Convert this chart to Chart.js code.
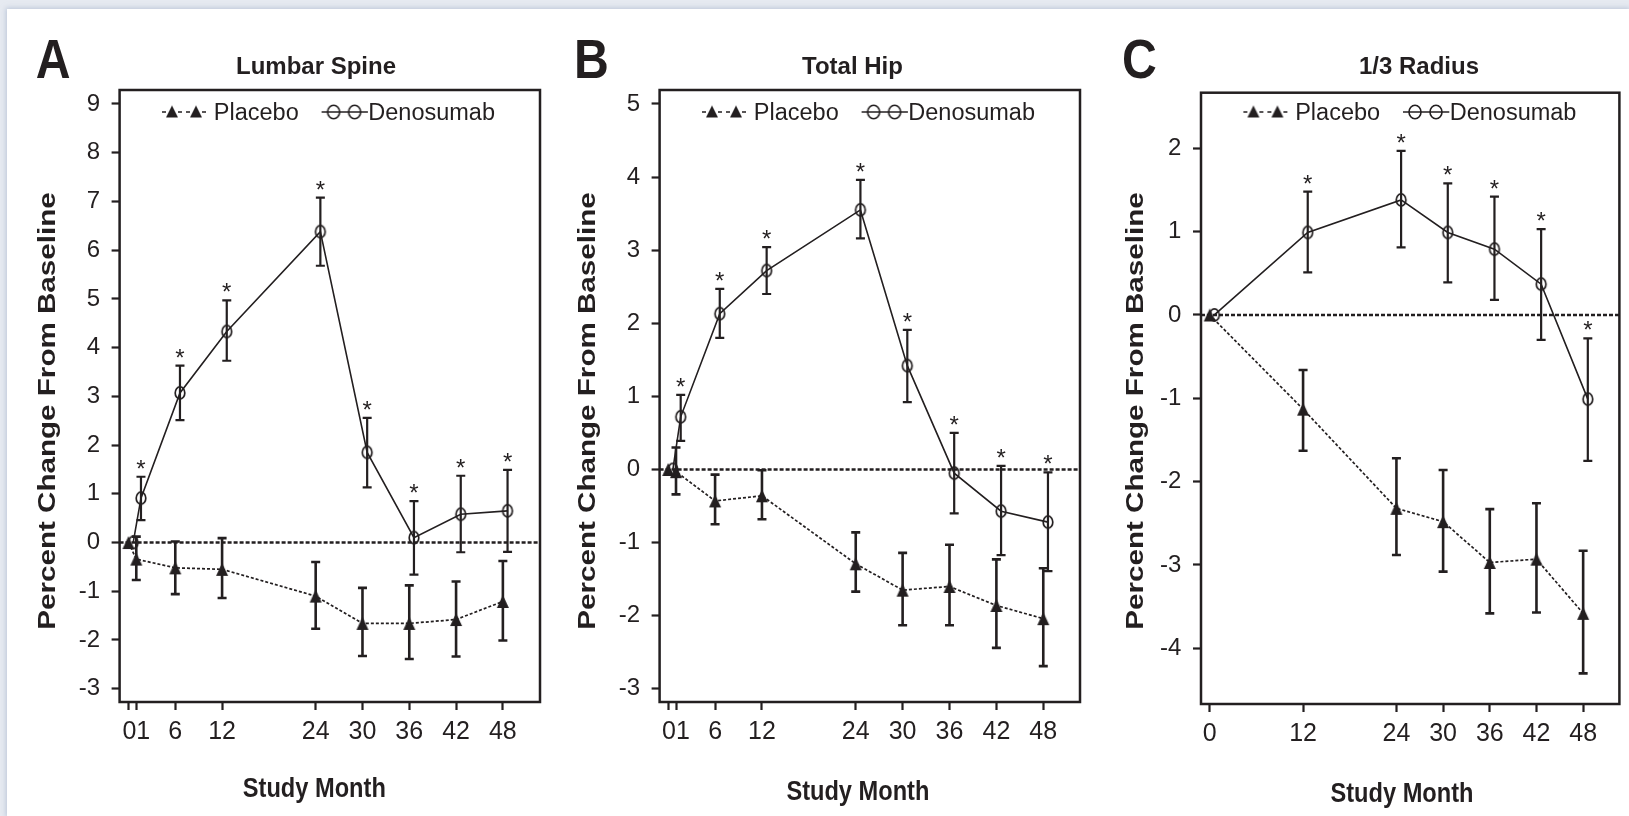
<!DOCTYPE html>
<html><head><meta charset="utf-8">
<script src="https://cdn.jsdelivr.net/npm/chart.js@4.4.1/dist/chart.umd.min.js"></script>
<style>
html,body{margin:0;padding:0;width:1629px;height:816px;overflow:hidden;background:#e6eaf1;}
#sheet{position:absolute;left:7px;top:9px;width:1622px;height:807px;background:#fff;box-shadow:0 0 5px 1px rgba(150,165,195,0.55);}
canvas{position:absolute;top:0;}
</style></head><body>
<div id="sheet"></div>
<canvas id="cA" width="560" height="816" style="left:0px"></canvas>
<canvas id="cB" width="540" height="816" style="left:560px"></canvas>
<canvas id="cC" width="529" height="816" style="left:1100px"></canvas>
<script>
// ---------------- DATA ----------------
const legendLabels = ['Placebo', 'Denosumab'];
const panelTitles = ['Lumbar Spine', 'Total Hip', '1/3 Radius'];
const panelLetters = ['A', 'B', 'C'];
const yAxisTitle = 'Percent Change From Baseline';
const xAxisTitle = 'Study Month';

// Panel A - Lumbar Spine
const monthsA = [0, 1, 6, 12, 24, 30, 36, 42, 48];
const xTickLabelsA = ['', '01', '6', '12', '24', '30', '36', '42', '48'];
const yTicksA = [-3, -2, -1, 0, 1, 2, 3, 4, 5, 6, 7, 8, 9];
const placeboA    = [0, -0.34, -0.52, -0.55, -1.10, -1.66, -1.66, -1.58, -1.21];
const placeboA_hi = [null, 0.12, 0.02, 0.09, -0.40, -0.93, -0.88, -0.80, -0.38];
const placeboA_lo = [null, -0.77, -1.06, -1.14, -1.77, -2.33, -2.39, -2.34, -2.01];
const denosumabA    = [0, 0.91, 3.07, 4.33, 6.38, 1.85, 0.10, 0.58, 0.65];
const denosumabA_hi = [null, 1.35, 3.63, 4.97, 7.08, 2.56, 0.85, 1.37, 1.49];
const denosumabA_lo = [null, 0.46, 2.51, 3.73, 5.68, 1.13, -0.66, -0.20, -0.19];
const starsA = [false, true, true, true, true, true, true, true, true];

// Panel B - Total Hip
const monthsB = [0, 1, 6, 12, 24, 30, 36, 42, 48];
const xTickLabelsB = ['', '01', '6', '12', '24', '30', '36', '42', '48'];
const yTicksB = [-3, -2, -1, 0, 1, 2, 3, 4, 5];
const placeboB    = [0, -0.03, -0.43, -0.36, -1.29, -1.65, -1.60, -1.86, -2.04];
const placeboB_hi = [null, 0.30, -0.07, -0.01, -0.86, -1.14, -1.03, -1.23, -1.35];
const placeboB_lo = [null, -0.34, -0.75, -0.68, -1.67, -2.13, -2.13, -2.44, -2.69];
const denosumabB    = [0, 0.72, 2.13, 2.72, 3.55, 1.42, -0.05, -0.57, -0.72];
const denosumabB_hi = [null, 1.02, 2.47, 3.04, 3.96, 1.91, 0.50, 0.05, -0.04];
const denosumabB_lo = [null, 0.39, 1.80, 2.40, 3.16, 0.92, -0.60, -1.17, -1.39];
const starsB = [false, true, true, true, true, true, true, true, true];

// Panel C - 1/3 Radius
const monthsC = [0, 12, 24, 30, 36, 42, 48];
const xTickLabelsC = ['0', '12', '24', '30', '36', '42', '48'];
const yTicksC = [-4, -3, -2, -1, 0, 1, 2];
const placeboC    = [0, -1.13, -2.32, -2.48, -2.97, -2.93, -3.58];
const placeboC_hi = [null, -0.66, -1.72, -1.86, -2.33, -2.26, -2.83];
const placeboC_lo = [null, -1.63, -2.88, -3.08, -3.58, -3.57, -4.30];
const denosumabC    = [0, 0.99, 1.38, 0.99, 0.79, 0.37, -1.01];
const denosumabC_hi = [null, 1.48, 1.97, 1.58, 1.42, 1.03, -0.28];
const denosumabC_lo = [null, 0.51, 0.81, 0.39, 0.18, -0.30, -1.75];
const starsC = [false, true, true, true, true, true, true];

// ---------------- STYLE / LAYOUT ----------------
const INK = '#231f20';
const FONT = "'Liberation Sans', Arial, Helvetica, sans-serif";
const DENO_DODGE = 0.6;   // horizontal dodge of denosumab series (months)
const CAP = 4.5;

function makeTriangle(w, h) {
  const c = document.createElement('canvas');
  c.width = Math.ceil(w) + 2; c.height = Math.ceil(h) + 2;
  const g = c.getContext('2d');
  const cx = c.width / 2, cy = c.height / 2;
  g.fillStyle = INK;
  g.beginPath();
  g.moveTo(cx, cy - h / 2); g.lineTo(cx + w / 2, cy + h / 2); g.lineTo(cx - w / 2, cy + h / 2);
  g.closePath(); g.fill();
  return c;
}
function makeEllipse(w, h, lw) {
  const c = document.createElement('canvas');
  c.width = Math.ceil(w + lw) + 2; c.height = Math.ceil(h + lw) + 2;
  const g = c.getContext('2d');
  g.strokeStyle = INK; g.lineWidth = lw;
  g.beginPath(); g.ellipse(c.width / 2, c.height / 2, w / 2, h / 2, 0, 0, Math.PI * 2); g.stroke();
  return c;
}
const triImg = makeTriangle(12, 13);
const circImg = makeEllipse(9.6, 12.2, 1.7);
const legTri = makeTriangle(12, 12);
const legCirc = makeEllipse(12, 13.5, 1.6);

function drawCentered(ctx, img, x, y) { ctx.drawImage(img, x - img.width / 2, y - img.height / 2); }

const decor = {
  id: 'decor',
  beforeDatasetsDraw(chart) {
    const { ctx, chartArea: a } = chart; const y = chart.scales.y;
    const y0 = y.getPixelForValue(0);
    ctx.save(); ctx.strokeStyle = INK; ctx.lineWidth = 2.4; ctx.setLineDash([4, 2]);
    ctx.beginPath(); ctx.moveTo(a.left, y0); ctx.lineTo(a.right, y0); ctx.stroke(); ctx.restore();
  },
  afterDatasetsDraw(chart) {
    const { ctx } = chart; const y = chart.scales.y;
    ctx.save(); ctx.strokeStyle = INK; ctx.fillStyle = INK; ctx.setLineDash([]);
    ctx.font = '24px ' + FONT; ctx.textAlign = 'center'; ctx.textBaseline = 'alphabetic';
    chart.data.datasets.forEach((ds, di) => {
      const meta = chart.getDatasetMeta(di);
      meta.data.forEach((pt, i) => {
        const hi = ds.errHi[i], lo = ds.errLo[i];
        if (hi == null || lo == null) return;
        const yh = y.getPixelForValue(hi), yl = y.getPixelForValue(lo);
        ctx.lineWidth = ds.errWidth;
        ctx.beginPath();
        ctx.moveTo(pt.x, yh); ctx.lineTo(pt.x, yl);
        ctx.moveTo(pt.x - CAP, yh); ctx.lineTo(pt.x + CAP, yh);
        ctx.moveTo(pt.x - CAP, yl); ctx.lineTo(pt.x + CAP, yl);
        ctx.stroke();
        if (ds.stars && ds.stars[i]) ctx.fillText('*', pt.x, yh);
      });
    });
    ctx.restore();
  },
  afterDraw(chart) {
    const { ctx, chartArea: a } = chart; const p = chart.options.plugins.decor;
    ctx.save();
    ctx.strokeStyle = INK; ctx.fillStyle = INK; ctx.lineWidth = 2.5; ctx.setLineDash([]);
    ctx.strokeRect(a.left, a.top, a.right - a.left, a.bottom - a.top);
    // panel letter
    ctx.save(); ctx.translate(p.letterX, 78); ctx.scale(0.86, 1);
    ctx.font = 'bold 56px ' + FONT; ctx.textAlign = 'left'; ctx.textBaseline = 'alphabetic';
    ctx.fillText(p.letter, 0, 0); ctx.restore();
    // title
    ctx.font = 'bold 24px ' + FONT; ctx.textAlign = 'center'; ctx.textBaseline = 'alphabetic';
    ctx.fillText(p.title, p.titleX, 73.5);
    // y title
    ctx.save(); ctx.translate(p.ylabX, 411); ctx.rotate(-Math.PI / 2); ctx.scale(1.27, 1);
    ctx.font = 'bold 23.3px ' + FONT; ctx.textAlign = 'center'; ctx.fillText(yAxisTitle, 0, 0); ctx.restore();
    // x title
    ctx.save(); ctx.translate(p.studyX, p.studyY); ctx.scale(0.875, 1);
    ctx.font = 'bold 27px ' + FONT; ctx.textAlign = 'center'; ctx.fillText(xAxisTitle, 0, 0); ctx.restore();
    // legend
    const L = a.left, yc = 112, base = 120;
    ctx.lineWidth = 1.6; ctx.setLineDash([4, 4]);
    ctx.beginPath(); ctx.moveTo(L + 42.4, yc); ctx.lineTo(L + 88.7, yc); ctx.stroke();
    ctx.setLineDash([]);
    drawCentered(ctx, legTri, L + 52.4, yc - 0.5); drawCentered(ctx, legTri, L + 76.4, yc - 0.5);
    ctx.font = '23.5px ' + FONT; ctx.textAlign = 'left';
    ctx.fillText(legendLabels[0], L + 94.2, base);
    ctx.lineWidth = 1.5;
    ctx.beginPath(); ctx.moveTo(L + 202, yc); ctx.lineTo(L + 248.3, yc); ctx.stroke();
    drawCentered(ctx, legCirc, L + 214, yc); drawCentered(ctx, legCirc, L + 235, yc);
    ctx.fillText(legendLabels[1], L + 248.7, base);
    ctx.restore();
  }
};

const panels = [
  { id: 'cA', W: 560, area: { left: 119.6, top: 90, right: 540, bottom: 702 }, xMin: -1.14, xMax: 52.76,
    months: monthsA, xLabels: xTickLabelsA, yTicks: yTicksA, yMin: -3.273, yMax: 9.287,
    pl: [placeboA, placeboA_hi, placeboA_lo], dn: [denosumabA, denosumabA_hi, denosumabA_lo], stars: starsA,
    deco: { title: panelTitles[0], titleX: 316, letter: panelLetters[0], letterX: 35.7, ylabX: 55, studyX: 314.3, studyY: 797 } },
  { id: 'cB', W: 540, area: { left: 99.6, top: 90, right: 520, bottom: 702 }, xMin: -1.1, xMax: 52.7,
    months: monthsB, xLabels: xTickLabelsB, yTicks: yTicksB, yMin: -3.18, yMax: 5.19,
    pl: [placeboB, placeboB_hi, placeboB_lo], dn: [denosumabB, denosumabB_hi, denosumabB_lo], stars: starsB,
    deco: { title: panelTitles[1], titleX: 292.5, letter: panelLetters[1], letterX: 14, ylabX: 35, studyX: 297.9, studyY: 800 } },
  { id: 'cC', W: 529, area: { left: 101, top: 92.7, right: 519.4, bottom: 704 }, xMin: -1.12, xMax: 52.66,
    months: monthsC, xLabels: xTickLabelsC, yTicks: yTicksC, yMin: -4.668, yMax: 2.667,
    pl: [placeboC, placeboC_hi, placeboC_lo], dn: [denosumabC, denosumabC_hi, denosumabC_lo], stars: starsC,
    deco: { title: panelTitles[2], titleX: 319, letter: panelLetters[2], letterX: 22, ylabX: 43.3, studyX: 302, studyY: 801.5 } }
];

panels.forEach(P => {
  const gridCfg = { display: true, drawOnChartArea: false, drawTicks: true, tickLength: 8, tickWidth: 2.2, tickColor: INK, color: INK };
  new Chart(document.getElementById(P.id), {
    type: 'line',
    data: {
      datasets: [
        { label: legendLabels[0], data: P.months.map((m, i) => ({ x: m, y: P.pl[0][i] })),
          errHi: P.pl[1], errLo: P.pl[2], errWidth: 2.6,
          borderColor: INK, borderWidth: 1.7, borderDash: [3, 2], fill: false, tension: 0,
          pointStyle: triImg, pointRadius: 6, pointHoverRadius: 6 },
        { label: legendLabels[1], data: P.months.map((m, i) => ({ x: m + DENO_DODGE, y: P.dn[0][i] })),
          errHi: P.dn[1], errLo: P.dn[2], errWidth: 2.2, stars: P.stars,
          borderColor: INK, borderWidth: 1.6, fill: false, tension: 0,
          pointStyle: circImg, pointRadius: 6, pointHoverRadius: 6 }
      ]
    },
    options: {
      responsive: false, animation: false, events: [],
      layout: { autoPadding: false, padding: { left: 0, top: P.area.top, right: P.W - P.area.right, bottom: 0 } },
      scales: {
        x: { type: 'linear', min: P.xMin, max: P.xMax,
          afterFit: s => { s.height = 816 - P.area.bottom; },
          afterBuildTicks: s => { s.ticks = P.months.map(v => ({ value: v })); },
          ticks: { autoSkip: false, maxRotation: 0, minRotation: 0, padding: 7.5, color: INK,
            font: { family: FONT, size: 25 }, callback: (v, i) => P.xLabels[i] },
          grid: gridCfg, border: { display: false } },
        y: { type: 'linear', min: P.yMin, max: P.yMax,
          afterFit: s => { s.width = P.area.left; },
          afterBuildTicks: s => { s.ticks = P.yTicks.map(v => ({ value: v })); },
          ticks: { padding: 11.6, color: INK, font: { family: FONT, size: 24 }, callback: v => String(v) },
          grid: gridCfg, border: { display: false } }
      },
      plugins: { legend: { display: false }, tooltip: { enabled: false }, title: { display: false }, decor: P.deco }
    },
    plugins: [decor]
  });
});
</script>
</body></html>
